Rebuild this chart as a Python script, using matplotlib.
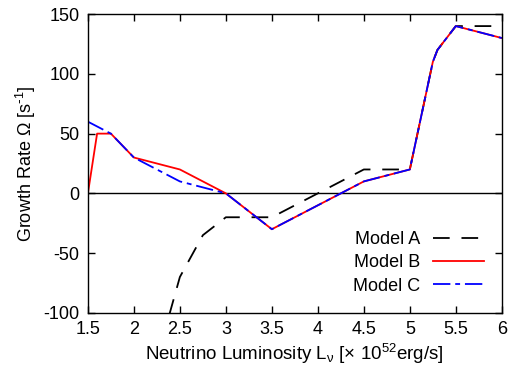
import matplotlib
matplotlib.use("Agg")
import matplotlib.pyplot as plt
from matplotlib.ticker import FormatStrFormatter, MultipleLocator

plt.rcParams['font.family'] = ['Liberation Sans', 'DejaVu Sans']
plt.rcParams['mathtext.default'] = 'regular'
plt.rcParams['lines.scale_dashes'] = False
plt.rcParams['axes.unicode_minus'] = False

# Model A (black dashed)
lum_a = [2.3, 2.5, 2.75, 3.0, 3.5, 4.5, 5.0, 5.25, 5.3, 5.5, 6.0]
rate_a = [-125, -70, -35, -20, -20, 20, 20, 110, 120, 140, 140]

# Model B (red solid)
lum_b = [1.5, 1.6, 1.75, 2.0, 2.5, 3.0, 3.5, 4.5, 5.0, 5.25, 5.3, 5.5, 6.0]
rate_b = [0, 50, 50, 30, 20, 0, -30, 10, 20, 110, 120, 140, 130]

# Model C (blue dash-dot)
lum_c = [1.5, 1.75, 2.0, 2.5, 3.0, 3.5, 4.5, 5.0, 5.25, 5.3, 5.5, 6.0]
rate_c = [60, 50, 30, 10, 0, -30, 10, 20, 110, 120, 140, 130]

fig = plt.figure(figsize=(5.11, 3.72), dpi=100)
ax = fig.add_axes([0.172, 0.159, 0.81, 0.803])

ax.axhline(0, color='black', lw=1.0)
ax.plot(lum_a, rate_a, color='black', lw=1.3, dashes=(12, 8.5), label='Model A')
ax.plot(lum_b, rate_b, color='red', lw=1.3, label='Model B')
ax.plot(lum_c, rate_c, color='blue', lw=1.3, dashes=(12.5, 3.5, 3.5, 3.5), label='Model C')

ax.set_xlim(1.5, 6)
ax.set_ylim(-100, 150)
ax.xaxis.set_major_locator(MultipleLocator(0.5))
ax.yaxis.set_major_locator(MultipleLocator(50))
ax.xaxis.set_major_formatter(FormatStrFormatter('%g'))
ax.tick_params(direction='in', top=True, right=True, labelsize=13, length=5, width=1, pad=6)
for s in ax.spines.values():
    s.set_linewidth(1.0)

ax.set_xlabel(r'Neutrino Luminosity L$_{\nu}$ [$\times$ 10$^{52}$erg/s]', fontsize=13.5, labelpad=3)
ax.set_ylabel(r'Growth Rate $\Omega$ [s$^{\text{-}1}$]', fontsize=13, labelpad=4)

ax.legend(loc='lower right', frameon=False, markerfirst=False, fontsize=13,
          handlelength=2.8, handletextpad=0.7, labelspacing=0.35,
          borderaxespad=0.6)

fig.savefig('out.png', dpi=100)
